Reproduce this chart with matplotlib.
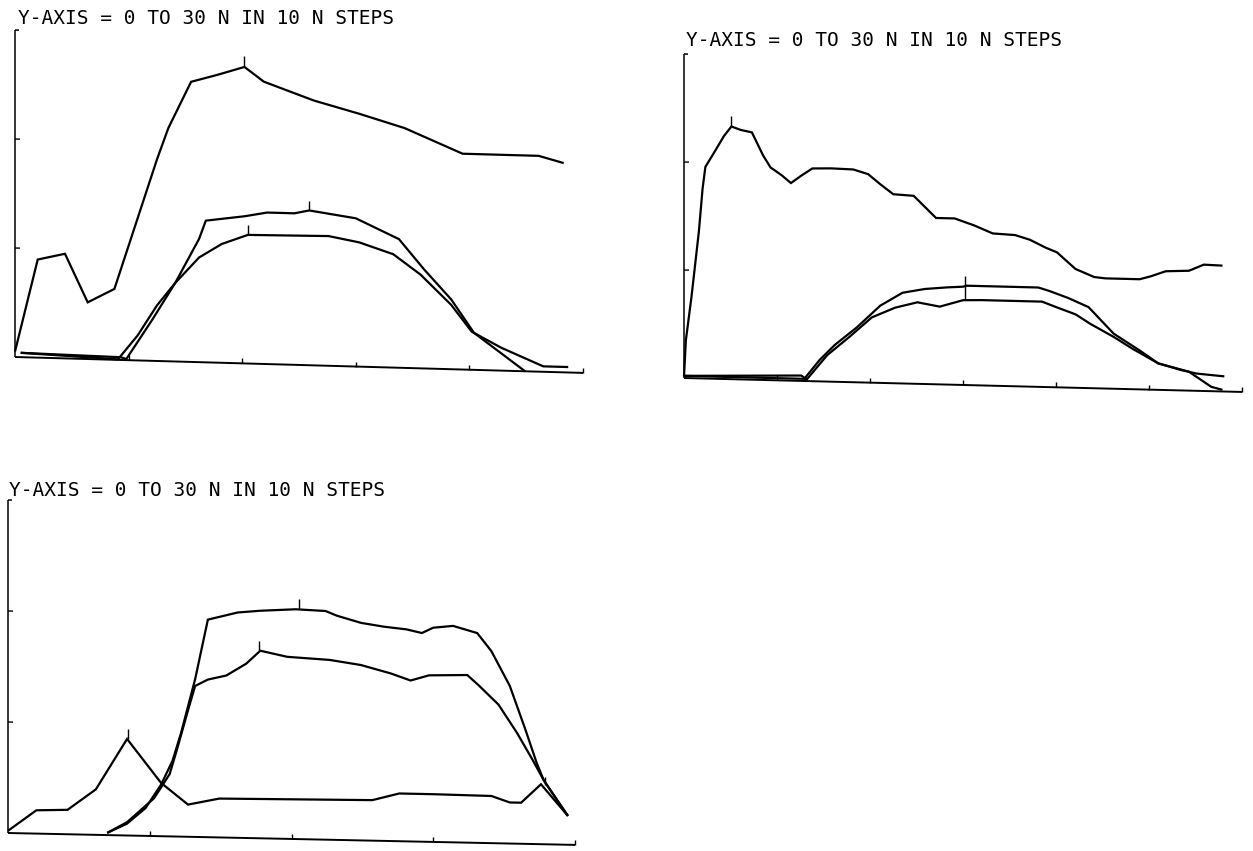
import math
import matplotlib
matplotlib.use("Agg")
import matplotlib.pyplot as plt
from matplotlib.transforms import Affine2D

W, H = 1253, 851
TITLE = "Y-AXIS = 0 TO 30 N IN 10 N STEPS"
Y_MAX = 30
Y_TICKS = [10, 20]

# ---------------- Panel 1 (x: 0..5) ----------------
p1_top_x = [0.0, 0.20, 0.44, 0.64, 0.875, 1.25, 1.35, 1.55, 1.78, 2.02, 2.19, 2.63, 3.03, 3.43, 3.94, 4.61, 4.83]
p1_top_y = [0.5, 9.0, 9.6, 5.2, 6.5, 18.5, 21.4, 25.7, 26.4, 27.2, 25.9, 24.3, 23.2, 22.0, 19.8, 19.8, 19.2]

p1_a_x = [0.05, 0.93, 0.98, 1.21, 1.41, 1.62, 1.68, 2.02, 2.22, 2.46, 2.59, 3.0, 3.38, 3.6, 3.84, 4.04, 4.49]
p1_a_y = [0.4, 0.25, 0.1, 3.8, 7.2, 11.3, 13.0, 13.5, 13.9, 13.9, 14.2, 13.6, 11.8, 9.1, 6.4, 3.4, 0.0]

p1_b_x = [0.05, 0.90, 0.91, 1.08, 1.25, 1.41, 1.62, 1.82, 2.05, 2.76, 3.03, 3.33, 3.57, 3.84, 4.02, 4.28, 4.65, 4.87]
p1_b_y = [0.4, 0.05, 0.1, 2.3, 5.1, 7.2, 9.6, 10.9, 11.8, 11.9, 11.4, 10.4, 8.6, 5.9, 3.5, 2.1, 0.5, 0.5]

p1_marks_x = [2.02, 2.59, 2.05]
p1_marks_y0 = [27.2, 14.2, 11.8]
p1_marks_y1 = [28.2, 15.1, 12.7]

# ---------------- Panel 2 (x: 0..6) ----------------
p2_top_x = [0.0, 0.02, 0.08, 0.16, 0.20, 0.23, 0.30, 0.43, 0.51, 0.61, 0.73, 0.85, 0.93, 1.05, 1.15, 1.26,
            1.38, 1.58, 1.82, 1.98, 2.11, 2.25, 2.47, 2.71, 2.91, 3.12, 3.32, 3.56, 3.72, 3.89, 4.01,
            4.21, 4.41, 4.53, 4.90, 5.02, 5.18, 5.43, 5.59, 5.79]
p2_top_y = [0.15, 3.5, 7.5, 13.6, 17.6, 19.6, 20.6, 22.5, 23.4, 23.1, 22.9, 20.8, 19.7, 19.0, 18.3, 19.0,
            19.7, 19.75, 19.7, 19.3, 18.4, 17.5, 17.4, 15.4, 15.4, 14.8, 14.1, 14.0, 13.6, 12.9, 12.5,
            11.0, 10.3, 10.2, 10.2, 10.5, 11.0, 11.1, 11.7, 11.65]

p2_a_x = [0.0, 1.26, 1.30, 1.46, 1.62, 1.86, 2.11, 2.35, 2.59, 2.83, 3.0, 3.04, 3.40, 3.81, 3.93, 4.13,
          4.35, 4.62, 4.90, 5.10, 5.43, 5.67, 5.79]
p2_a_y = [0.2, 0.5, 0.27, 2.0, 3.4, 5.1, 7.15, 8.4, 8.8, 9.0, 9.1, 9.2, 9.2, 9.2, 8.9, 8.3,
          7.5, 5.1, 3.6, 2.45, 1.75, 0.4, 0.15]

p2_b_x = [0.0, 1.30, 1.32, 1.54, 1.78, 2.02, 2.27, 2.51, 2.75, 3.0, 3.2, 3.85, 4.01, 4.21, 4.37, 4.62,
          4.82, 5.10, 5.34, 5.51, 5.81]
p2_b_y = [0.2, 0.2, 0.15, 2.45, 4.2, 6.05, 7.0, 7.55, 7.2, 7.85, 7.9, 7.9, 7.4, 6.8, 5.95, 4.8,
          3.76, 2.45, 1.9, 1.6, 1.4]

p2_marks_x = [0.51, 3.02]
p2_marks_y0 = [23.4, 7.9]
p2_marks_y1 = [24.4, 10.1]

# ---------------- Panel 3 (x: 0..4) ----------------
p3_c_x = [0.0, 0.20, 0.42, 0.62, 0.84, 1.08, 1.27, 1.49, 1.84, 2.57, 2.76, 3.0, 3.41, 3.54, 3.62, 3.76, 3.95]
p3_c_y = [0.2, 2.1, 2.2, 4.1, 8.7, 4.8, 2.9, 3.5, 3.55, 3.65, 4.3, 4.3, 4.25, 3.7, 3.7, 5.4, 2.6]

p3_a_x = [0.70, 0.84, 0.97, 1.08, 1.16, 1.22, 1.27, 1.32, 1.41, 1.62, 1.78, 2.03, 2.24, 2.32, 2.49,
          2.65, 2.81, 2.92, 3.0, 3.14, 3.31, 3.41, 3.54, 3.65, 3.73, 3.78, 3.95]
p3_a_y = [0.2, 1.07, 2.5, 4.65, 6.8, 9.3, 11.75, 14.2, 19.6, 20.3, 20.5, 20.7, 20.6, 20.2, 19.6,
          19.3, 19.1, 18.8, 19.3, 19.5, 18.9, 17.3, 14.2, 10.3, 7.3, 5.75, 2.6]

p3_b_x = [0.70, 0.84, 1.03, 1.14, 1.19, 1.27, 1.32, 1.41, 1.54, 1.68, 1.78, 1.97, 2.27, 2.49, 2.70,
          2.84, 2.97, 3.24, 3.32, 3.46, 3.59, 3.70, 3.78, 3.95]
p3_b_y = [0.2, 1.2, 3.4, 5.6, 7.75, 11.4, 13.6, 14.2, 14.6, 15.7, 16.9, 16.4, 16.2, 15.8, 15.1,
          14.5, 15.0, 15.1, 14.2, 12.5, 10.0, 7.6, 5.75, 2.6]

p3_marks_x = [2.05, 1.77, 0.85, 3.79]
p3_marks_y0 = [20.7, 16.9, 8.7, 5.3]
p3_marks_y1 = [21.6, 17.8, 9.6, 6.1]


fig = plt.figure(figsize=(W / 100, H / 100), dpi=100)
fig.patch.set_facecolor("white")

LW = 1.6


def panel(origin, right_x, top_y, slope, xmax, series, marks, title_xy):
    ox, oy = origin
    ax = fig.add_axes([ox / W, 1 - oy / H, (right_x - ox) / W, (oy - top_y) / H])
    ax.set_xlim(0, xmax)
    ax.set_ylim(0, Y_MAX)
    ax.axis("off")
    # shear about the data origin to mimic the tilted plotter baseline
    T = ax.transData + Affine2D().translate(-ox, -(H - oy)).skew(0, -math.atan(slope)).translate(ox, H - oy)
    px_per_y = (oy - top_y) / Y_MAX
    px_per_x = (right_x - ox) / xmax
    tick = 5 / px_per_y
    tick_x = 5 / px_per_x
    kw = dict(color="black", transform=T, clip_on=False, solid_capstyle="butt")
    # axes
    ax.plot([0, 0], [0, Y_MAX], lw=1.1, **kw)
    ax.plot([0, tick_x * 0.8], [Y_MAX, Y_MAX], lw=1.1, **kw)
    for yt in Y_TICKS:
        ax.plot([0, tick_x], [yt, yt], lw=1.0, **kw)
    ax.plot([0, xmax], [0, 0], lw=1.4, **kw)
    for xt in range(1, int(xmax) + 1):
        ax.plot([xt, xt], [0, tick], lw=1.0, **kw)
    for xs, ys in series:
        ax.plot(xs, ys, lw=LW, solid_joinstyle="miter", **kw)
    for mx, y0, y1 in zip(*marks):
        ax.plot([mx, mx], [y0, y1], lw=1.0, **kw)
    fig.text(title_xy[0] / W, 1 - title_xy[1] / H, TITLE, ha="left", va="center",
             family="DejaVu Sans Mono", fontsize=14, color="black")


panel((15, 357), 583, 30, 0.028, 5,
      [(p1_top_x, p1_top_y), (p1_a_x, p1_a_y), (p1_b_x, p1_b_y)],
      (p1_marks_x, p1_marks_y0, p1_marks_y1), (18, 18))

panel((684, 378), 1242, 54, 0.025, 6,
      [(p2_top_x, p2_top_y), (p2_a_x, p2_a_y), (p2_b_x, p2_b_y)],
      (p2_marks_x, p2_marks_y0, p2_marks_y1), (686, 40))

panel((8, 833), 575, 500, 0.021, 4,
      [(p3_c_x, p3_c_y), (p3_a_x, p3_a_y), (p3_b_x, p3_b_y)],
      (p3_marks_x, p3_marks_y0, p3_marks_y1), (9, 490))

fig.savefig("out.png", dpi=100, facecolor="white")
